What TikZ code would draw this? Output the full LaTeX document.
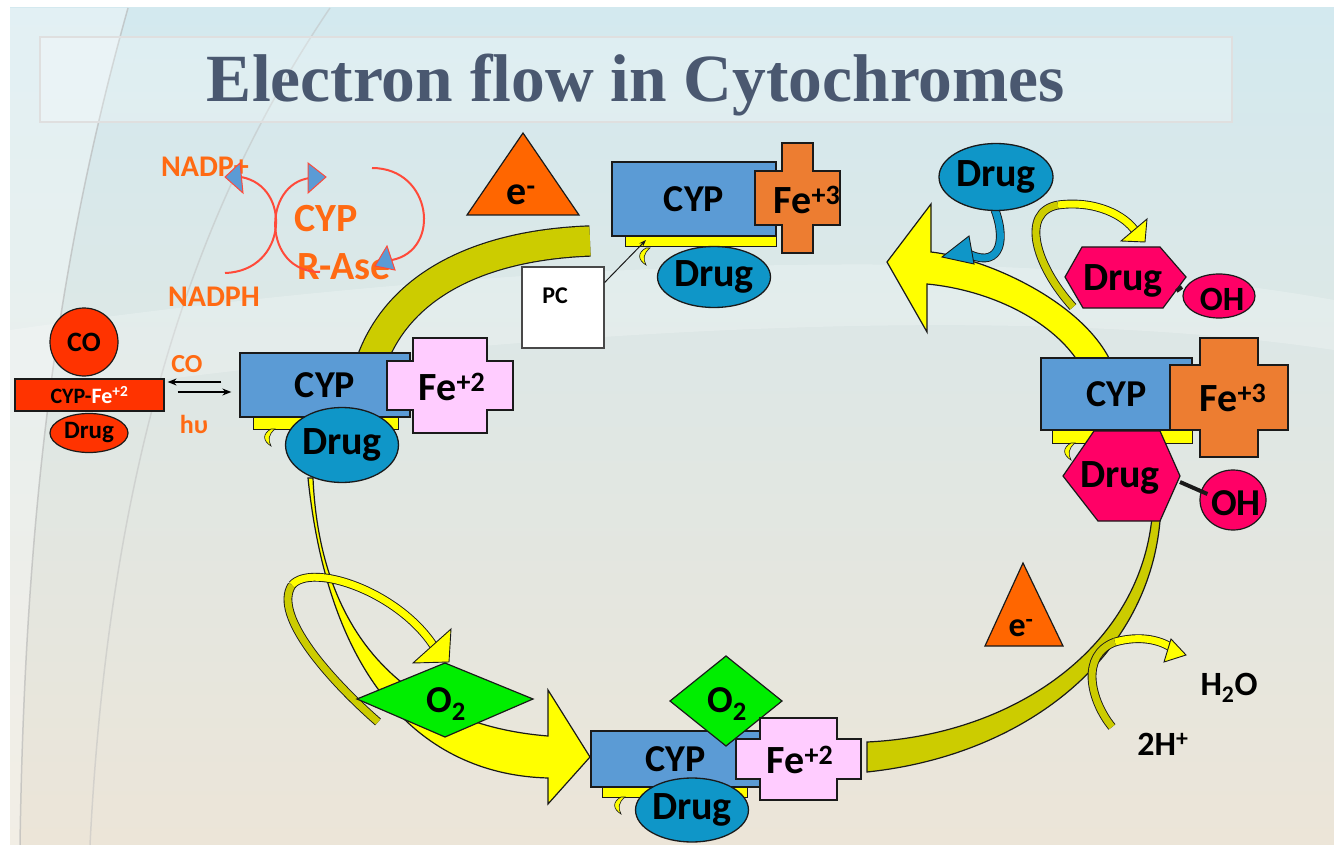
\documentclass[tikz,border=0pt]{standalone}
\usepackage{fontspec}
\setmainfont{Carlito}
\newfontfamily\titlefont{Liberation Serif}
\usetikzlibrary{shapes.geometric,arrows.meta}
\definecolor{edge}{HTML}{1A1A1A}
\definecolor{cypblue}{HTML}{5B9BD5}
\definecolor{fethree}{HTML}{ED7D31}
\definecolor{fetwo}{HTML}{FFCCFF}
\definecolor{drugblue}{HTML}{0F96C8}
\definecolor{mag}{HTML}{FF0066}
\definecolor{yel}{HTML}{FFFF00}
\definecolor{olv}{HTML}{CCCC00}
\definecolor{tri}{HTML}{FF6600}
\definecolor{grn}{HTML}{00EE00}
\definecolor{cored}{HTML}{FF3300}
\definecolor{otxt}{HTML}{FF6A13}
\definecolor{arcred}{HTML}{FF4A3A}
\definecolor{headblue}{HTML}{5B9BD5}
\definecolor{titlecol}{HTML}{4A5870}
\definecolor{bgtop}{HTML}{D3E9EF}
\definecolor{bgmid}{HTML}{F4F6F3}
\definecolor{bgbot}{HTML}{ECE5D8}
\newcommand\fs[1]{\fontsize{#1}{#1}\selectfont\bfseries}
% cross: color, x1, y1, x2, y2, dx, dy
\newcommand\fecross[7]{\filldraw[fill=#1,draw=edge,line width=1.2]
 ({#2+#6},#3) -- ({#4-#6},#3) -- ({#4-#6},{#3+#7}) -- (#4,{#3+#7}) -- (#4,{#5-#7})
 -- ({#4-#6},{#5-#7}) -- ({#4-#6},#5) -- ({#2+#6},#5) -- ({#2+#6},{#5-#7})
 -- (#2,{#5-#7}) -- (#2,{#3+#7}) -- ({#2+#6},{#3+#7}) -- cycle;}
\newcommand\yhook[2]{\begin{scope}[shift={(#1,#2)}]
 \filldraw[fill=yel,draw=edge,line width=0.6] (3,0) .. controls (-6,5) and (-5,12) .. (3,17)
 .. controls (0,11) and (0,6) .. (7,0) -- cycle;\end{scope}}
\begin{document}
\begin{tikzpicture}[x=1pt,y=-1pt,
 lbl/.style={font=\fs{40},text=black,inner sep=0},
 olbl/.style={text=otxt,inner sep=0},
 cypbox/.style={draw=edge,line width=1.3,fill=cypblue,inner sep=0,font=\fs{38}},
 drug/.style={ellipse,draw=edge,line width=1.3,fill=drugblue,inner sep=0,font=\fs{40}},
 shp/.style={draw=edge,line width=1.2},
 ribbon/.style={draw=edge,line width=0.9,double distance=7},
 arcline/.style={draw=arcred,line width=2},
 ahead/.style={fill=headblue,draw=arcred,line width=1},
 blk/.style={-{Stealth[length=9,width=7]},line width=1.4,draw=black}]
\useasboundingbox (0,0) rectangle (1334,845);
% background
\fill[white] (0,0) rectangle (1334,845);
\shade[top color=bgtop,middle color=bgmid,bottom color=bgbot] (10,8) rectangle (1334,845);
\fill[white,opacity=0.35] (10,8) -- (128,8) .. controls (60,250) and (25,500) .. (20,845) -- (10,845) -- cycle;
\draw[gray!60,line width=1.5,opacity=0.6] (128,8) .. controls (60,250) and (25,500) .. (20,845);
\draw[gray!50,line width=1.5,opacity=0.5] (330,8) .. controls (200,200) and (110,450) .. (90,845);
\fill[white,opacity=0.22] (10,330) .. controls (500,260) and (1000,240) .. (1334,300) -- (1334,350) .. controls (1000,300) and (500,330) .. (10,400) -- cycle;
% title
\node[draw=gray!25,line width=1.2,fill=white,fill opacity=0.25,minimum width=1192,minimum height=85,inner sep=0] (titlebox) at (636,79.5) {};
\node[anchor=base,font=\titlefont\bfseries\fontsize{67.5}{67.5}\selectfont,text=titlecol,inner sep=0] (title) at (636,102) {Electron flow in Cytochromes};

% top-left reductase
\node[olbl,font=\fs{30}] (nadp) at (205,167) {NADP+};
\node[olbl,font=\fs{30}] (nadph) at (214,297) {NADPH};
\node[olbl,font=\fs{40}] (rcyp) at (326,219) {CYP};
\node[olbl,font=\fs{40}] (rase) at (344,267) {R-Ase};
\draw[arcline] (225,273) .. controls (288,271) and (292,186) .. (241,177);
\filldraw[ahead] (225,177) -- (240,163) -- (243,193) -- cycle;
\draw[arcline] (320,272) .. controls (262,272) and (262,184) .. (310,178);
\filldraw[ahead] (326,177) -- (308,163) -- (308,193) -- cycle;
\draw[arcline] (372,168) .. controls (432,168) and (442,250) .. (392,260);
\filldraw[ahead] (375,266) -- (387,246) -- (395,270) -- cycle;

% cycle bands and arrows
\draw[draw=edge,line width=1.2,double=olv,double distance=29] (372,360) .. controls (400,285) and (480,245) .. (590,241);
\filldraw[fill=olv,shp] (1153,500) .. controls (1150,640) and (1020,735) .. (867,742) -- (867,772) .. controls (1030,755) and (1160,650) .. (1161,500) -- cycle;
\filldraw[fill=yel,shp] (887,262) -- (931,204) -- (931,252) .. controls (985,258) and (1080,300) .. (1110,360) -- (1077,360) .. controls (1050,320) and (990,290) .. (927,284) -- (927,332) -- cycle;
\filldraw[fill=yel,shp] (313,478) .. controls (320,640) and (410,725) .. (548,736) -- (548,690) -- (590,757) -- (548,804) -- (548,778) .. controls (430,775) and (330,690) .. (308,478) -- cycle;

% blue drug arrow
\draw[ribbon,double=drugblue] (995,210) .. controls (1008,245) and (997,270) .. (965,252);
\filldraw[fill=drugblue,shp,line width=0.9] (942,257) -- (969,236) -- (974,264) -- cycle;
% top-right loop arrow
\draw[ribbon,double=olv] (1073,307) .. controls (1035,265) and (1020,212) .. (1058,205);
\draw[ribbon,double=yel] (1058,205) .. controls (1095,200) and (1125,215) .. (1136,232);
\filldraw[fill=yel,shp,line width=0.9] (1147,219) -- (1145,242) -- (1121,241) -- cycle;
% bottom-left loop arrow
\draw[ribbon,double=olv] (378,722) .. controls (330,680) and (272,615) .. (292,585);
\draw[ribbon,double=yel] (292,585) .. controls (312,562) and (400,592) .. (435,648);
\filldraw[fill=yel,shp,line width=0.9] (451,629) -- (449,662) -- (413,663) -- cycle;
% H2O loop arrow
\draw[ribbon,double=olv] (1112,727) .. controls (1090,700) and (1080,655) .. (1115,642);
\draw[ribbon,double=yel] (1115,642) .. controls (1140,635) and (1160,640) .. (1172,648);
\filldraw[fill=yel,shp,line width=0.9] (1186,655) -- (1171,639) -- (1164,662) -- cycle;

% electron triangles
\filldraw[fill=tri,shp] (467,215) -- (579,215) -- (523,133) -- cycle;
\node[lbl] (eT) at (521,195) {e\textsuperscript{-}};
\filldraw[fill=tri,shp] (985,646) -- (1063,646) -- (1023,563) -- cycle;
\node[lbl,font=\fs{34}] (eB) at (1021,628) {e\textsuperscript{-}};

% PC
\node[draw=edge!80,fill=white,line width=1.2,minimum width=82,minimum height=81,inner sep=0] (pc) at (563,307.5) {};
\node[lbl,font=\fs{24}] (pclbl) at (555,296) {PC};
\coordinate (pcend) at (646,240);

% top complex
\filldraw[fill=yel,shp,line width=1] (625,236) rectangle (776,247);
\node[cypbox,minimum width=164,minimum height=74] (cypT) at (694,199) {CYP};
\fecross{fethree}{755}{143}{840}{253}{27}{28}
\node[lbl] (feT) at (807,200) {Fe\textsuperscript{+3}};
\node[drug,minimum width=113,minimum height=61] (drugT) at (714,277) {Drug};
\yhook{643}{248}
\draw[-{Stealth[length=7,width=5]},line width=1,draw=edge] ([yshift=25]pc.east) -- (pcend);

% left complex
\filldraw[fill=yel,shp,line width=1] (253,417) rectangle (398,429);
\node[cypbox,minimum width=170,minimum height=64] (cypL) at (325,385) {CYP};
\fecross{fetwo}{387}{338}{513}{433}{26}{23}
\node[lbl] (feL) at (452,387) {Fe\textsuperscript{+2}};
\yhook{268}{429}
\node[drug,minimum width=112,minimum height=75] (drugL) at (342,445) {Drug};

% right complex
\filldraw[fill=yel,shp,line width=1] (1052,430) rectangle (1192,443);
\node[cypbox,minimum width=151,minimum height=72] (cypR) at (1116.5,394) {CYP};
\fecross{fethree}{1170}{338}{1288}{457}{30}{27}
\node[lbl] (feR) at (1233,398) {Fe\textsuperscript{+3}};
\yhook{1068}{443}
\filldraw[fill=mag,shp] (1063,476) -- (1094,431) -- (1160,431) -- (1180,476) -- (1160,521) -- (1098,521) -- cycle;
\node[lbl] (drugR) at (1120,478) {Drug};
\coordinate (hexR) at (1180,482);
\node[ellipse,draw=edge,line width=1.2,fill=mag,minimum width=66,minimum height=60,inner sep=0] (ohR) at (1233,500) {};
\draw[line width=4,draw=edge] (hexR) -- ([xshift=8,yshift=6]ohR.west);
\node[lbl,font=\fs{38}] (ohRt) at (1236,503) {OH};

% top-right free drug and product
\node[drug,minimum width=114,minimum height=67] (drugTR) at (996,177) {Drug};
\filldraw[fill=mag,shp] (1065,277) -- (1082,247) -- (1160,247) -- (1186,277) -- (1163,308) -- (1083,308) -- cycle;
\node[lbl] (drugH) at (1123,281) {Drug};
\coordinate (hexTR) at (1182,287);
\node[ellipse,draw=edge,line width=1.2,fill=mag,minimum width=72,minimum height=44,inner sep=0] (ohTR) at (1219,296) {};
\draw[line width=4,draw=edge] (hexTR) -- ([xshift=-6,yshift=5]ohTR.west);
\node[lbl,font=\fs{34}] (ohTRt) at (1222,299) {OH};

% bottom complex
\filldraw[fill=yel,shp,line width=1] (602,787) rectangle (747,797);
\node[cypbox,minimum width=169,minimum height=56] (cypB) at (675.5,759) {CYP};
\filldraw[fill=grn,shp] (670,701) -- (726,656) -- (782,701) -- (726,746) -- cycle;
\node[lbl,font=\fs{38}] (o2B) at (727,704) {O\textsubscript{2}};
\fecross{fetwo}{736}{718}{861}{800}{24}{21}
\node[lbl] (feB) at (800,760) {Fe\textsuperscript{+2}};
\yhook{618}{797}
\node[drug,minimum width=112,minimum height=64] (drugB) at (692,810) {Drug};

% left O2
\filldraw[fill=grn,shp] (357,699) -- (445,663) -- (533,699) -- (445,737) -- cycle;
\node[lbl,font=\fs{38}] (o2L) at (446,704) {O\textsubscript{2}};

% CO complex
\node[circle,draw=edge,line width=1.2,fill=cored,minimum size=68,inner sep=0,font=\fs{28}] (co) at (84,342) {CO};
\node[draw=edge,line width=1.2,fill=cored,minimum width=149,minimum height=32,inner sep=0,font=\fs{22}] (cocplx) at (89.5,395) {CYP-\textcolor{white}{Fe\textsuperscript{+2}}};
\node[ellipse,draw=edge,line width=1.2,fill=cored,minimum width=78,minimum height=39,inner sep=0,font=\fs{25}] (codrug) at (89,433) {Drug};
\draw[blk] ([xshift=-18,yshift=3]cypL.west) -- ([xshift=3,yshift=13]cocplx.east);
\draw[blk] ([xshift=13,yshift=3]cocplx.east) -- ([xshift=-8,yshift=-7]cypL.west);
\node[olbl,font=\fs{26}] (colbl) at (187,364) {CO};
\node[olbl,font=\fs{26}] (hv) at (194,424) {hυ};

% water
\node[lbl,font=\fs{34}] (h2o) at (1229,688) {H\textsubscript{2}O};
\node[lbl,font=\fs{34}] (hplus) at (1163,744) {2H\textsuperscript{+}};
\end{tikzpicture}
\end{document}
